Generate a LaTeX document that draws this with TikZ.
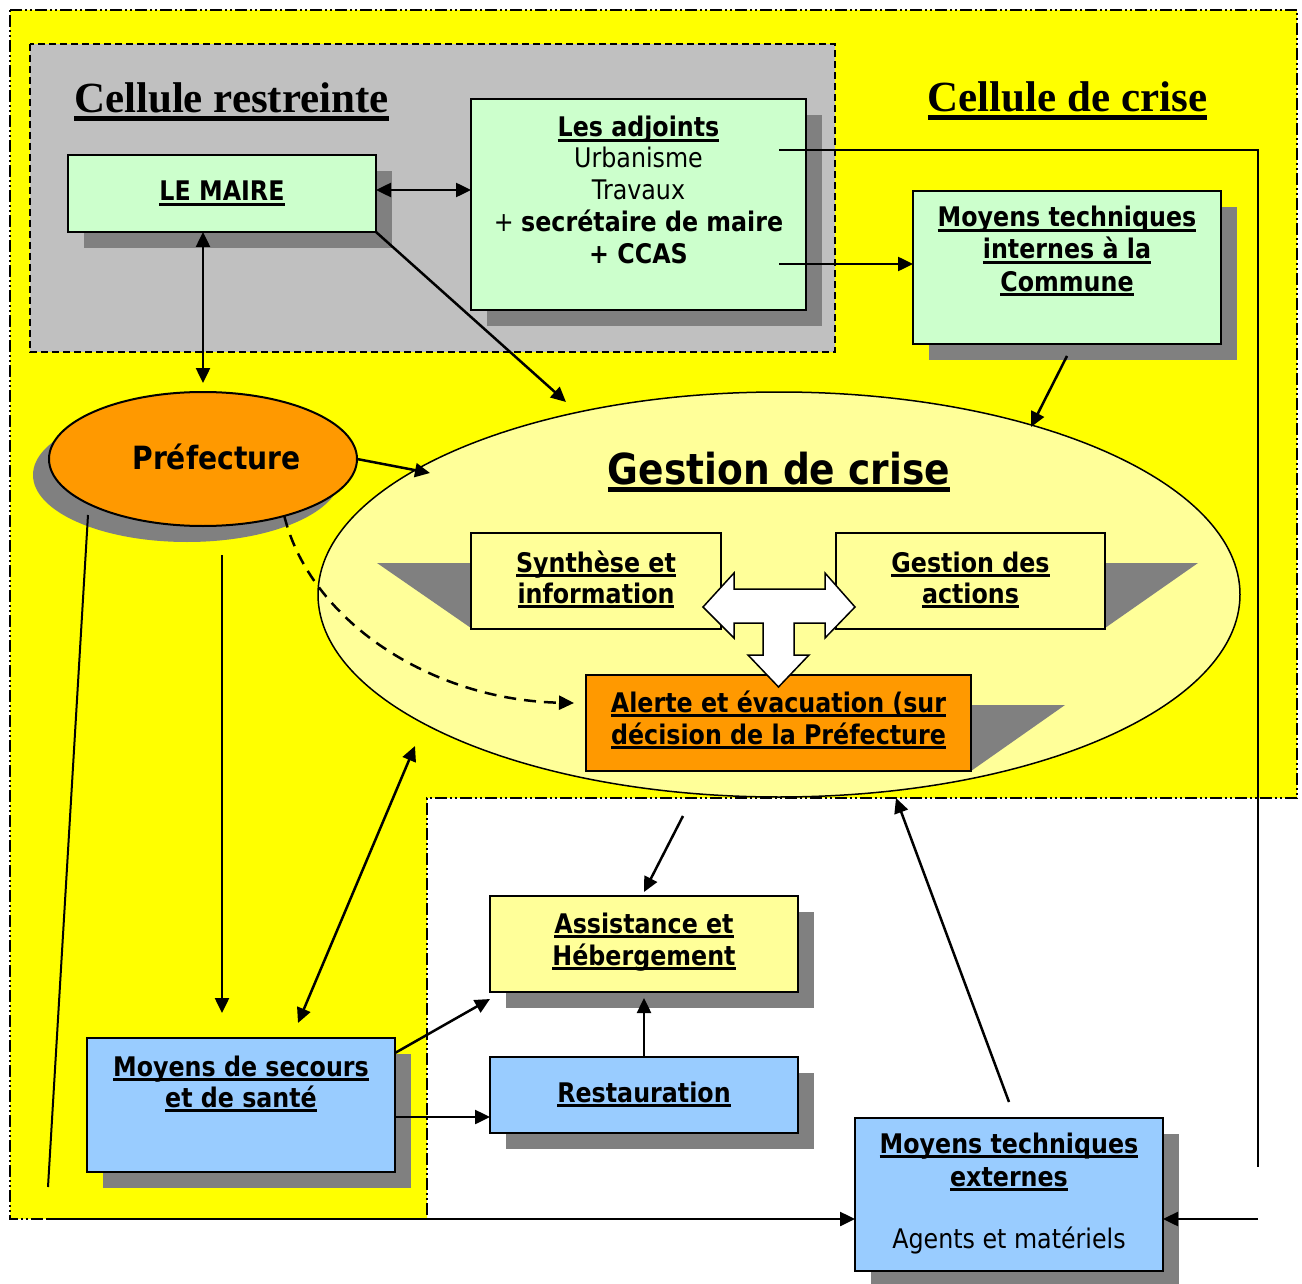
\documentclass[tikz,border=0pt]{standalone}
\usepackage{fontspec}
\setmainfont{DejaVu Sans}[FakeStretch=0.88]
\newfontfamily\tms{Liberation Serif}
\usetikzlibrary{arrows.meta,shapes.geometric,shadows}
\definecolor{cyel}{HTML}{FFFF00}
\definecolor{cgray}{HTML}{C0C0C0}
\definecolor{cshad}{HTML}{808080}
\definecolor{cgreen}{HTML}{CCFFCC}
\definecolor{cblue}{HTML}{99CCFF}
\definecolor{cpale}{HTML}{FFFF99}
\definecolor{corange}{HTML}{FF9900}
\newcommand\ulx[1]{\setbox0\hbox{#1}\rlap{\rule[-0.18em]{\wd0}{0.115em}}\box0}
\begin{document}
\begin{tikzpicture}[x=1pt,y=-1pt,
  shbox/.style={draw, line width=2pt, inner sep=0pt, outer sep=0pt, anchor=north west,
    drop shadow={shadow xshift=16pt, shadow yshift=-16pt, fill=cshad, opacity=1}},
  plainbox/.style={draw, line width=2pt, inner sep=0pt, outer sep=0pt, anchor=north west},
  txt/.style={anchor=base, inner sep=0pt, font=\fontsize{27}{32}\selectfont\bfseries},
  rtxt/.style={anchor=base, inner sep=0pt, font=\fontsize{27}{32}\selectfont},
  ttl/.style={anchor=base, inner sep=0pt, font=\tms\fontsize{43}{50}\selectfont\bfseries},
  arr/.style={line width=2.5pt, -{Triangle[length=15pt,width=14pt]}},
  dbl/.style={line width=2.5pt, {Triangle[length=15pt,width=14pt]}-{Triangle[length=15pt,width=14pt]}},
  ln/.style={line width=2pt},
  dashdot/.style={line width=2pt, dash pattern=on 12pt off 3pt on 2pt off 3pt on 2pt off 3pt}
]
\useasboundingbox (0,0) rectangle (1302,1284);
\fill[white] (0,0) rectangle (1302,1284);

% Cellule de crise region (yellow L shape)
\fill[cyel] (10,10) -- (1297,10) -- (1297,798) -- (427,798) -- (427,1219) -- (10,1219) -- cycle;
\draw[dashdot] (10,10) -- (1297,10) -- (1297,798) -- (427,798) -- (427,1219) -- (10,1219) -- cycle;

% Cellule restreinte region
\draw[fill=cgray, line width=2pt, dash pattern=on 7pt off 4pt] (30,44) rectangle (835,352);

\node[ttl] (t1) at (231.5,113) {\ulx{Cellule restreinte}};
\node[ttl] (t2) at (1067.5,112) {\ulx{Cellule de crise}};

% Gestion de crise ellipse
\node[ellipse, draw, line width=1.5pt, fill=cpale, minimum width=922pt, minimum height=405pt, inner sep=0pt, outer sep=0pt] (gc) at (779,594.5) {};
\node[anchor=base, inner sep=0pt, font=\fontsize{42.7}{50}\selectfont\bfseries] (tgc) at (779,484) {\ulx{Gestion de crise}};

\fill[cshad] (377,563) -- (471,563) -- (471,628) -- cycle;
\fill[cshad] (1105,563) -- (1198,563) -- (1105,628) -- cycle;
\fill[cshad] (971,705) -- (1065,705) -- (971,771) -- cycle;

\node[plainbox, fill=cpale, minimum width=250pt, minimum height=96pt] (syn) at (471,533) {};
\node[plainbox, fill=cpale, minimum width=269pt, minimum height=96pt] (act) at (836,533) {};
\node[plainbox, fill=corange, minimum width=385pt, minimum height=96pt] (ale) at (586,675) {};
\node[txt] (tsyn1) at (596,572) {\ulx{Synthèse et}};
\node[txt] (tsyn2) at (596,603) {\ulx{information}};
\node[txt] (tact1) at (970.5,572) {\ulx{Gestion des}};
\node[txt] (tact2) at (970.5,603) {\ulx{actions}};
\node[txt] (tale1) at (778.5,712) {\ulx{Alerte et évacuation (sur}};
\node[txt] (tale2) at (778.5,744) {\ulx{décision de la Préfecture}};

% white T arrow
\draw[line width=1.5pt, fill=white, line join=miter] (703,607) -- (734,573) -- (734,589) -- (825,589) -- (825,573) -- (855,607) -- (825,638) -- (825,623) -- (794,623) -- (794,655) -- (809,655) -- (778.5,687) -- (748,655) -- (763,655) -- (763,623) -- (734,623) -- (734,638) -- cycle;

% boxes
\node[shbox, fill=cgreen, minimum width=308pt, minimum height=77pt] (maire) at (68,155) {};
\node[txt] (tmaire) at (222,201) {\ulx{LE MAIRE}};

\node[shbox, fill=cgreen, minimum width=335pt, minimum height=211pt] (adj) at (471,99) {};
\node[txt] (tadj1) at (638.5,137) {\ulx{Les adjoints}};
\node[rtxt] (tadj2) at (638.5,168) {Urbanisme};
\node[rtxt] (tadj3) at (638.5,200) {Travaux};
\node[rtxt] (tadj4) at (638.5,232) {+ \textbf{secrétaire de maire}};
\node[txt] (tadj5) at (638.5,264) {+ CCAS};

\node[shbox, fill=cgreen, minimum width=308pt, minimum height=153pt] (int) at (913,191) {};
\node[txt] (tint1) at (1067,227) {\ulx{Moyens techniques}};
\node[txt] (tint2) at (1067,259) {\ulx{internes à la}};
\node[txt] (tint3) at (1067,291) {\ulx{Commune}};

\node[ellipse, draw, line width=2pt, fill=corange, minimum width=308pt, minimum height=134pt, inner sep=0pt, outer sep=0pt,
  drop shadow={shadow xshift=-16pt, shadow yshift=-16pt, fill=cshad, opacity=1}] (pref) at (203,459) {};
\node[anchor=base, inner sep=0pt, font=\fontsize{32}{38}\selectfont\bfseries] (tpref) at (216.5,469) {Préfecture};

\node[shbox, fill=cpale, minimum width=308pt, minimum height=96pt] (assist) at (490,896) {};
\node[txt] (tas1) at (644,933) {\ulx{Assistance et}};
\node[txt] (tas2) at (644,965) {\ulx{Hébergement}};

\node[shbox, fill=cblue, minimum width=308pt, minimum height=76pt] (rest) at (490,1057) {};
\node[txt] (trest) at (644,1102) {\ulx{Restauration}};

\node[shbox, fill=cblue, minimum width=308pt, minimum height=134pt] (sec) at (87,1038) {};
\node[txt] (tsec1) at (241,1076) {\ulx{Moyens de secours}};
\node[txt] (tsec2) at (241,1107) {\ulx{et de santé}};

\node[shbox, fill=cblue, minimum width=308pt, minimum height=153pt] (ext) at (855,1118) {};
\node[txt] (text1) at (1009,1153) {\ulx{Moyens techniques}};
\node[txt] (text2) at (1009,1186) {\ulx{externes}};
\node[rtxt] (text3) at (1009,1248) {Agents et matériels};

% coordinates
\coordinate (m1) at (376,190);
\coordinate (gcA) at (566,402);
\coordinate (a1) at (779,150);
\coordinate (a2) at (779,264);
\coordinate (rc) at (1258,1167);
\coordinate (gcB) at (1031,427);
\coordinate (gcC) at (430,473);
\coordinate (alD) at (574,703);
\coordinate (p1) at (222,555);
\coordinate (p2) at (222,1013);
\coordinate (d1) at (298,1023);
\coordinate (d2) at (415,746);
\coordinate (l1) at (88,515);
\coordinate (l2) at (48,1187);
\coordinate (b1) at (48,1219);
\coordinate (b2) at (1258,1219);
\coordinate (gcE) at (896,798);
\coordinate (g1) at (683,816);
\coordinate (q) at (395,1117);

% connectors
\draw[dbl] (maire.east |- m1) -- (adj.west |- m1);
\draw[dbl] (pref.north |- maire.south) -- ([yshift=9pt]pref.north);
\draw[arr] (maire.south east) -- (gcA);
\draw[arr] (a2) -- (int.west |- a2);
\draw[ln] (a1) -- (a1 -| rc) -- (rc);
\draw[arr] ([yshift=-12pt]int.south) -- (gcB);
\draw[arr] (pref.east) -- (gcC);
\draw[arr, dash pattern=on 12pt off 8pt] (pref.-35) .. controls (310,620) and (430,700) .. (alD);
\draw[arr] (p1) -- (p2);
\draw[dbl] (d1) -- (d2);
\draw[ln] (l1) -- (l2);
\draw[arr] (b1) -- (b1 -| ext.west);
\draw[arr] (b2) -- (b2 -| ext.east);
\draw[arr] ([yshift=16pt]ext.north) -- (gcE);
\draw[arr] (g1) -- ([yshift=4pt]assist.north);
\draw[arr] (rest.north) -- ([yshift=-6pt]assist.south);
\draw[arr] ([yshift=-15pt]sec.north east) -- ([yshift=-7pt]assist.south west);
\draw[arr] (sec.east |- q) -- (rest.west |- q);
\end{tikzpicture}
\end{document}
